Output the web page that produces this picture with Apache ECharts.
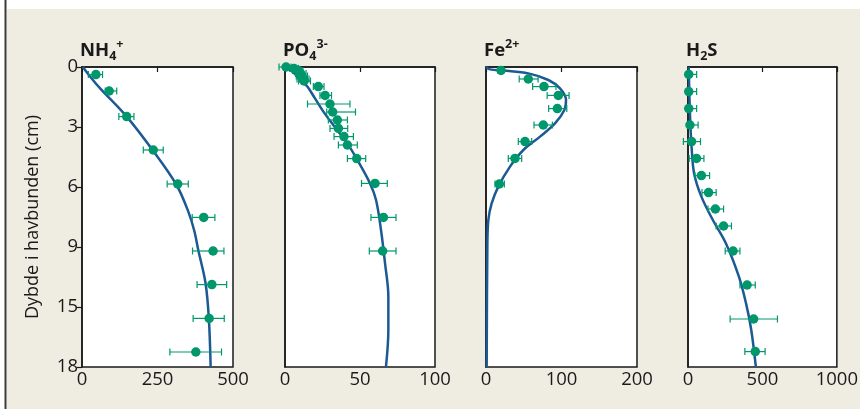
<!DOCTYPE html>
<html><head><meta charset="utf-8">
<script src="https://cdn.jsdelivr.net/npm/echarts@6/dist/echarts.min.js"></script>
<style>html,body{margin:0;padding:0;background:#fff}#c{width:861px;height:409px}</style>
</head><body><div id="c"></div>
<script>
// Depth axis (plotted positions 0..15) carries these tick labels
const depthTickLabels = ['0','3','6','9','15','18'];
const xMax = [500, 100, 200, 1000];

// NH4+
const nh4Depth = [0.38, 1.2, 2.48, 4.15, 5.85, 7.52, 9.2, 10.88, 12.57, 14.25];
const nh4Value = [46, 90, 148, 236, 317, 403, 434, 430, 421, 377];
const nh4Low   = [21, 77, 122, 203, 282, 365, 366, 381, 368, 291];
const nh4High  = [68, 115, 172, 269, 352, 440, 470, 479, 471, 462];
const nh4CurveDepth = [0, 0.5, 1.07, 2.48, 4.2, 5.9, 7.23, 8.2, 9.15, 10.8, 12.57, 15];
const nh4CurveValue = [3, 28, 60, 148, 236, 313, 352, 372, 385, 409, 420, 426];

// PO4 3-
const po4Depth = [0, 0.07, 0.18, 0.32, 0.45, 0.6, 0.7, 0.98, 1.42, 1.85, 2.25, 2.65, 3.07, 3.48, 3.9, 4.58, 5.82, 7.52, 9.2];
const po4Value = [0.7, 6, 8.9, 10.4, 11.1, 11.8, 12.7, 22.2, 26.7, 30, 31.8, 34.9, 35.6, 39.3, 41.6, 47.8, 60, 65.6, 65.1];
const po4Low   = [-4, 3, 5, 7, 7.5, 8, 9, 18.9, 23.3, 15, 27.8, 28.9, 30, 32.7, 35.6, 41.6, 51, 57.3, 56.2];
const po4High  = [4, 9, 12, 14, 15, 16, 17, 26, 31, 43.3, 47, 41.6, 41.8, 45.6, 48.2, 53.8, 68.2, 74, 74];
const po4CurveDepth = [0, 0.3, 0.7, 0.98, 1.57, 2.23, 2.9, 3.77, 4.73, 5.82, 6.65, 8.15, 9.82, 11.48, 13.15, 15];
const po4CurveValue = [1, 6, 11, 14.9, 20, 25.6, 32.2, 41.1, 48.9, 56.7, 60.7, 64, 66.7, 68.9, 68.9, 67.3];

// Fe 2+
const feDepth = [0.17, 0.6, 0.98, 1.42, 2.08, 2.9, 3.73, 4.57, 5.85];
const feValue = [19.9, 56, 76.8, 95.8, 94.5, 75.9, 51.7, 38.4, 17.6];
const feLow   = [16, 44, 61.8, 81, 83, 63.6, 42.8, 29.5, 11.9];
const feHigh  = [23, 69, 92.7, 110, 107, 87.9, 60.5, 47.3, 24.3];
const feCurveDepth = [0, 0.12, 0.18, 0.32, 0.65, 1.07, 1.65, 2.15, 2.82, 3.48, 4.15, 4.98, 5.98, 6.82, 7.65, 8.98, 15];
const feCurveValue = [0, 5.3, 23, 56, 82.6, 98, 106, 103.8, 91.4, 71.6, 49.5, 31.8, 16.3, 7.5, 3.1, 1.8, 0.9];

// H2S
const h2sDepth = [0.37, 1.23, 2.08, 2.9, 3.73, 4.57, 5.43, 6.28, 7.1, 7.95, 9.2, 10.9, 12.6, 14.23];
const h2sValue = [5, 5, 5, 13, 24, 57, 90, 138, 184, 239, 303, 397, 441, 452];
const h2sLow   = [0, 0, 0, 0, -31, 8, 46, 94, 134, 189, 250, 349, 283, 382];
const h2sHigh  = [58, 58, 58, 68, 84, 107, 145, 189, 239, 292, 349, 452, 601, 518];
const h2sCurveDepth = [0, 2.32, 3.98, 5.32, 6.48, 7.65, 8.82, 10.48, 11.82, 13.15, 15];
const h2sCurveValue = [5, 13, 24, 41, 90, 167, 255, 342, 390, 425, 456];

const panels = [
  {title:['NH','4','+'], d:nh4Depth, v:nh4Value, lo:nh4Low, hi:nh4High, cd:nh4CurveDepth, cv:nh4CurveValue},
  {title:['PO','4','3-'], d:po4Depth, v:po4Value, lo:po4Low, hi:po4High, cd:po4CurveDepth, cv:po4CurveValue},
  {title:['Fe','','2+'], d:feDepth, v:feValue, lo:feLow, hi:feHigh, cd:feCurveDepth, cv:feCurveValue},
  {title:['H','2','S'], d:h2sDepth, v:h2sValue, lo:h2sLow, hi:h2sHigh, cd:h2sCurveDepth, cv:h2sCurveValue, lastNormal:true}
];

const FONT = 'Open Sans';
const GREEN = '#00976c';
const BLUE = '#1b5a94';
const INK = '#1a1a1a';
const gridLefts = [82, 285, 486, 688];
const gridWidths = [151, 150, 151, 152];

const grids = [], xAxes = [], yAxes = [], series = [], titles = [];

function errRender(params, api) {
  const y = api.value(1), lo = api.value(2), hi = api.value(3);
  const p1 = api.coord([lo, y]), p2 = api.coord([hi, y]);
  const h = 3.5;
  const st = {stroke: GREEN, lineWidth: 1.2};
  return {type:'group', children:[
    {type:'line', shape:{x1:p1[0], y1:p1[1], x2:p2[0], y2:p2[1]}, style:st},
    {type:'line', shape:{x1:p1[0], y1:p1[1]-h, x2:p1[0], y2:p1[1]+h}, style:st},
    {type:'line', shape:{x1:p2[0], y1:p2[1]-h, x2:p2[0], y2:p2[1]+h}, style:st}
  ]};
}

panels.forEach((p, i) => {
  grids.push({left: gridLefts[i], top: 67, width: gridWidths[i], height: 300,
    show: true, backgroundColor: '#fff', borderColor: INK, borderWidth: 1.5});
  xAxes.push({type:'value', gridIndex:i, min:0, max:xMax[i], interval:xMax[i]/2,
    axisLine:{show:true, lineStyle:{color:INK, width:1.5}},
    axisTick:{show:true, length:5, lineStyle:{color:INK, width:1.2}},
    axisLabel:{fontFamily:FONT, fontSize:18.5, color:INK, margin:3, formatter: v => String(v)},
    splitLine:{show:false}});
  const y = {type:'value', gridIndex:i, inverse:true, min:0, max:15, interval:3,
    axisLine:{show:true, lineStyle:{color:INK, width:1.5}},
    splitLine:{show:false}};
  if (i === 0) {
    y.axisTick = {show:true, length:5, lineStyle:{color:INK, width:1.2}};
    y.axisLabel = {fontFamily:FONT, fontSize:18.5, color:INK, margin:4,
      formatter: v => depthTickLabels[Math.round(v/3)]};
    y.name = 'Dybde i havbunden (cm)';
    y.nameLocation = 'middle';
    y.nameGap = 40;
    y.nameTextStyle = {fontFamily:FONT, fontSize:18, color:INK};
  } else {
    y.axisTick = {show:false};
    y.axisLabel = {show:false};
  }
  yAxes.push(y);

  const t = p.title;
  let text;
  if (p.lastNormal) text = '{b|' + t[0] + '}{sub|' + t[1] + '}{b|' + t[2] + '}';
  else text = '{b|' + t[0] + '}' + (t[1] ? '{sub|' + t[1] + '}' : '') + '{sup|' + t[2] + '}';
  titles.push({left: gridLefts[i] - 2, top: 38, padding: 0, text: text,
    textStyle:{rich:{
      b:{fontFamily:FONT, fontWeight:'bold', fontSize:18.5, color:INK, lineHeight:25, verticalAlign:'middle'},
      sub:{fontFamily:FONT, fontWeight:'bold', fontSize:12.5, color:INK, lineHeight:12, verticalAlign:'bottom'},
      sup:{fontFamily:FONT, fontWeight:'bold', fontSize:12.5, color:INK, lineHeight:16, verticalAlign:'top'}
    }}});

  series.push({type:'line', xAxisIndex:i, yAxisIndex:i, smooth:0.35, showSymbol:false, symbol:'none',
    lineStyle:{color:BLUE, width:2.5}, clip:false, z:2,
    data: p.cd.map((d, k) => [p.cv[k], d])});
  series.push({type:'custom', xAxisIndex:i, yAxisIndex:i, renderItem: errRender, clip:false, z:3,
    encode:{x:0, y:1},
    data: p.d.map((d, k) => [p.v[k], d, p.lo[k], p.hi[k]])});
  series.push({type:'scatter', xAxisIndex:i, yAxisIndex:i, symbolSize:9.5, clip:false, z:4,
    itemStyle:{color:GREEN, opacity:1},
    data: p.d.map((d, k) => [p.v[k], d])});
});

const chart = echarts.init(document.getElementById('c'), null, {renderer:'canvas'});
chart.setOption({
  backgroundColor:'#fff',
  animation:false,
  graphic:[
    {type:'rect', shape:{x:7, y:9, width:853, height:400}, style:{fill:'#efece2'}, z:-10, silent:true},
    {type:'line', shape:{x1:5.5, y1:0, x2:5.5, y2:409}, style:{stroke:'#3a3a3a', lineWidth:2}, z:-9, silent:true}
  ],
  title: titles,
  grid: grids,
  xAxis: xAxes,
  yAxis: yAxes,
  series: series
});
</script></body></html>
